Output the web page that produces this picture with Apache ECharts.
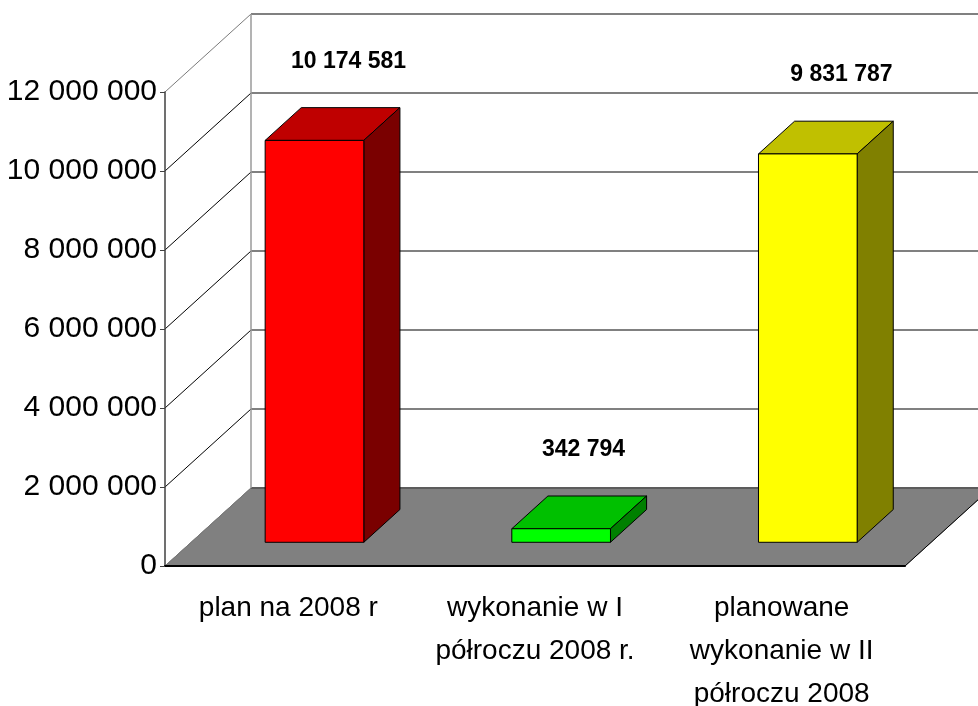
<!DOCTYPE html>
<html lang="pl">
<head>
<meta charset="UTF-8">
<title>plan 2008</title>
<script src="https://cdn.jsdelivr.net/npm/echarts@6/dist/echarts.min.js"></script>
<style>
  body { margin: 0; background: #fff; }
  #main { width: 978px; height: 706px; }
</style>
</head>
<body>
<div id="main"></div>
<script>
// dane
var categories = ['plan na 2008 r', 'wykonanie w I\npółroczu 2008 r.', 'planowane\nwykonanie w II\npółroczu 2008'];
var values = [10174581, 342794, 9831787];
var yTicks = [0, 2000000, 4000000, 6000000, 8000000, 10000000, 12000000];

// kolory słupków: przód, góra, bok
var faceColors = [
  ['#ff0000', '#bf0000', '#7a0000'],
  ['#00ff00', '#00c000', '#008000'],
  ['#ffff00', '#c0c000', '#808000']
];

var FONT = "'Liberation Sans', Arial, sans-serif";
var DEPTH = [86, -78];   // przesunięcie tylnej ściany (px)
var FRONT = 0.304;       // gdzie stoi przód słupka (część głębokości)
var BAR_DEPTH = 0.42;    // głębokość słupka
var BAR_WIDTH = 0.4;     // szerokość słupka / szerokość kategorii

function fmt(v) {
  return String(v).replace(/\B(?=(\d{3})+(?!\d))/g, ' ');
}

// ściany i podłoga
function renderWalls(params, api) {
  var cs = params.coordSys;
  var x0 = cs.x, x1 = cs.x + cs.width;
  var dx = DEPTH[0], dy = DEPTH[1];
  var yb = api.coord([0, 0])[1];
  var yTop = api.coord([0, yTicks[yTicks.length - 1]])[1];
  var children = [];
  children.push({
    type: 'polygon',
    shape: { points: [[x0, yb], [x1, yb], [x1 + dx, yb + dy], [x0 + dx, yb + dy]] },
    style: { fill: '#808080', stroke: '#6a6a6a', lineWidth: 1 }
  });
  yTicks.forEach(function (v) {
    var y = api.coord([0, v])[1];
    var last = v === yTicks[yTicks.length - 1];
    children.push({
      type: 'line',
      shape: { x1: x0 + dx, y1: y + dy, x2: x1 + dx, y2: y + dy },
      style: { stroke: v === 0 ? '#5c5c5c' : '#808080', lineWidth: 2 }
    });
    children.push({
      type: 'line',
      shape: { x1: x0, y1: y, x2: x0 + dx, y2: y + dy },
      style: { stroke: (last || v === 0) ? '#7a7a7a' : '#000', lineWidth: 1 }
    });
  });
  children.push({
    type: 'line',
    shape: { x1: x0 + dx, y1: yb + dy, x2: x0 + dx, y2: yTop + dy },
    style: { stroke: '#9a9a9a', lineWidth: 1.5 }
  });
  children.push({
    type: 'line',
    shape: { x1: x1, y1: yb, x2: x1 + dx, y2: yb + dy },
    style: { stroke: '#000', lineWidth: 1 }
  });
  return { type: 'group', children: children };
}

// słupek 3D z etykietą
function renderBar(params, api) {
  var i = api.value(0), v = api.value(1);
  var base = api.coord([i, 0]);
  var topPt = api.coord([i, v]);
  var w = api.size([1, 0])[0] * BAR_WIDTH;
  var fx = DEPTH[0] * FRONT, fy = DEPTH[1] * FRONT;
  var bx = DEPTH[0] * BAR_DEPTH, by = DEPTH[1] * BAR_DEPTH;
  var L = base[0] - w / 2 + fx, R = L + w;
  var B = base[1] + fy, T = topPt[1] + fy;
  var c = faceColors[i];
  return {
    type: 'group',
    children: [
      {
        type: 'polygon',
        shape: { points: [[L, T], [R, T], [R + bx, T + by], [L + bx, T + by]] },
        style: { fill: c[1], stroke: '#000', lineWidth: 1 }
      },
      {
        type: 'polygon',
        shape: { points: [[R, T], [R + bx, T + by], [R + bx, B + by], [R, B]] },
        style: { fill: c[2], stroke: '#000', lineWidth: 1 }
      },
      {
        type: 'rect',
        shape: { x: L, y: T, width: w, height: B - T },
        style: { fill: c[0], stroke: '#000', lineWidth: 1 }
      },
      {
        type: 'text',
        x: (L + R) / 2 + 22 + (B - T) * 0.03,
        y: T - 79,
        style: {
          text: fmt(v), fill: '#000', fontSize: 23, fontWeight: 'bold',
          fontFamily: FONT, align: 'center', verticalAlign: 'middle'
        }
      }
    ]
  };
}

var chart = echarts.init(document.getElementById('main'));
chart.setOption({
  animation: false,
  grid: { left: 165, right: 73, top: 92, bottom: 140, outerBoundsMode: 'none', containLabel: false },
  xAxis: {
    type: 'category',
    data: categories,
    z: 5,
    axisLine: { lineStyle: { color: '#000', width: 2 } },
    axisTick: { length: 9, lineStyle: { color: '#000' } },
    axisLabel: {
      color: '#000', fontSize: 28, fontFamily: FONT,
      lineHeight: 43, margin: 21, interval: 0
    }
  },
  yAxis: {
    type: 'value',
    min: 0,
    max: 12000000,
    interval: 2000000,
    z: 5,
    axisLine: { show: true, lineStyle: { color: '#404040', width: 1.5 } },
    axisTick: { show: true, length: 5, lineStyle: { color: '#404040' } },
    splitLine: { show: false },
    axisLabel: { color: '#000', fontSize: 30, fontFamily: FONT, margin: 8, formatter: fmt }
  },
  series: [
    {
      type: 'custom',
      z: 1,
      silent: true,
      renderItem: renderWalls,
      data: [[0, 0]]
    },
    {
      type: 'custom',
      z: 2,
      silent: true,
      renderItem: renderBar,
      encode: { x: 0, y: 1 },
      data: values.map(function (v, i) { return [i, v]; })
    }
  ]
});
</script>
</body>
</html>
